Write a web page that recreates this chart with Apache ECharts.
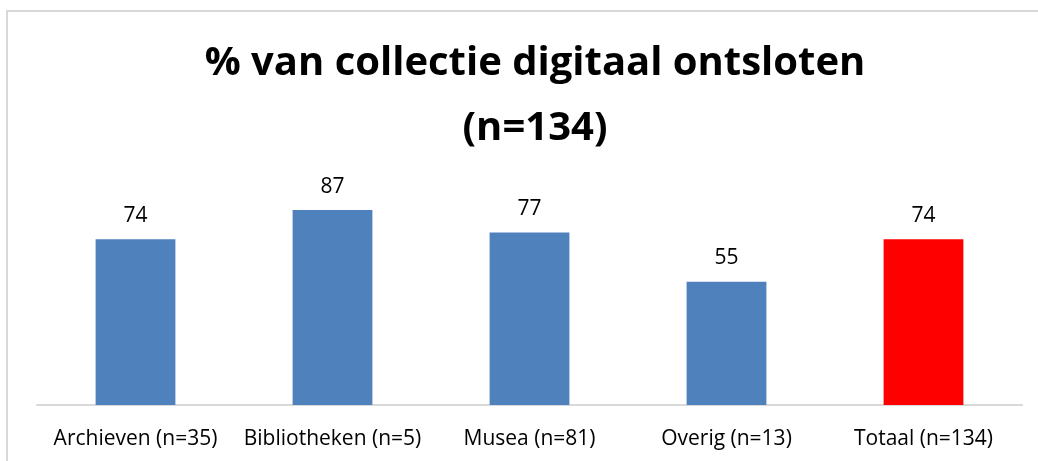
<!DOCTYPE html>
<html>
<head>
<meta charset="utf-8">
<script src="https://cdn.jsdelivr.net/npm/echarts@6/dist/echarts.min.js"></script>
<style>
  html, body { margin: 0; padding: 0; background: #fff; }
  #chart { width: 1038px; height: 461px; }
  .frame { position: absolute; left: 6px; top: 10px; right: -2px; bottom: -2px; border: 2px solid #d9d9d9; pointer-events: none; }
</style>
</head>
<body>
<div id="chart"></div>
<div class="frame"></div>
<script>
  var categories = ['Archieven (n=35)', 'Bibliotheken (n=5)', 'Musea (n=81)', 'Overig (n=13)', 'Totaal (n=134)'];
  var values = [74, 87, 77, 55, 74];
  var barColors = ['#4f81bd', '#4f81bd', '#4f81bd', '#4f81bd', '#ff0000'];
  var titleText = '% van collectie digitaal ontsloten\n(n=134)';

  var chart = echarts.init(document.getElementById('chart'));
  var option = {
    animation: false,
    title: {
      text: titleText,
      left: 530,
      textAlign: 'center',
      top: 26,
      textStyle: {
        fontFamily: 'Open Sans',
        fontWeight: 'bold',
        fontSize: 40,
        lineHeight: 65,
        color: '#000'
      }
    },
    grid: { left: 37, right: 16, top: 181, bottom: 56, containLabel: false },
    xAxis: {
      type: 'category',
      data: categories,
      axisLine: { lineStyle: { color: '#d9d9d9', width: 2 } },
      axisTick: { show: false },
      axisLabel: { fontFamily: 'Open Sans', fontSize: 21, color: '#000', margin: 24, interval: 0 }
    },
    yAxis: {
      type: 'value',
      min: 0,
      max: 100,
      show: false
    },
    series: [{
      type: 'bar',
      barWidth: '40.5%',
      data: values.map(function (v, i) {
        return { value: v, itemStyle: { color: barColors[i] } };
      }),
      label: {
        show: true,
        position: 'top',
        distance: 13,
        fontFamily: 'Open Sans',
        fontSize: 21,
        color: '#000'
      }
    }]
  };
  chart.setOption(option);
</script>
</body>
</html>
